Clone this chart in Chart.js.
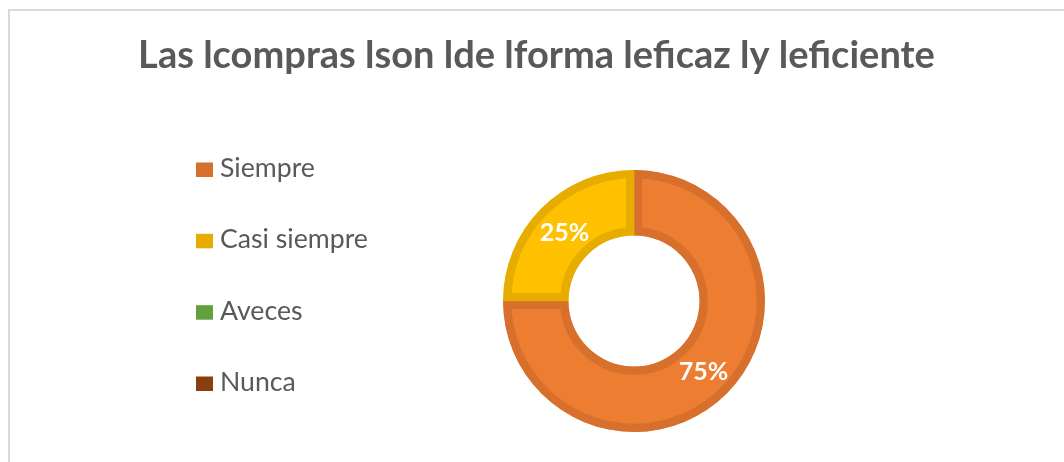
<!DOCTYPE html>
<html>
<head>
<meta charset="utf-8">
<script src="https://cdn.jsdelivr.net/npm/chart.js@4/dist/chart.umd.min.js"></script>
<style>
  html, body { margin: 0; padding: 0; background: #ffffff; }
  #frame { position: absolute; left: 8px; top: 9px; width: 1056px; height: 453px;
           border-top: 2px solid #D9D9D9; border-left: 2px solid #D9D9D9; box-sizing: border-box; }
  #wrap { position: absolute; left: 0; top: 0; width: 1064px; height: 462px; }
</style>
</head>
<body>
<div id="frame"></div>
<div id="wrap"><canvas id="c" width="1064" height="462"></canvas></div>
<script>
const chartTitle = "Las lcompras lson lde lforma leficaz ly leficiente";
const categories = ["Siempre", "Casi siempre", "Aveces", "Nunca"];
const percentValues = [75, 25, 0, 0];
const fillColors = ["#ED7D31", "#FFC000", "#70AD47", "#9E480E"];
const edgeColors = ["#D6702C", "#E6AD00", "#62A03F", "#8A3E0D"];

const FONT = "Lato, 'Open Sans', 'Liberation Sans', sans-serif";

function fitFont(ctx, text, weight, targetWidth) {
  ctx.font = weight + " 100px " + FONT;
  const w = ctx.measureText(text).width;
  return 100 * targetWidth / w;
}

const decorPlugin = {
  id: "decor",
  afterDraw(chart) {
    const ctx = chart.ctx;
    ctx.save();
    // Title
    const ts = fitFont(ctx, chartTitle, "bold", 797);
    ctx.font = "bold " + ts.toFixed(2) + "px " + FONT;
    ctx.fillStyle = "#595959";
    ctx.textAlign = "center";
    ctx.textBaseline = "alphabetic";
    ctx.fillText(chartTitle, 536.5, 68);
    // Legend
    const ls = fitFont(ctx, "Casi siempre", "normal", 148);
    const baselines = [177, 248.3, 319.7, 391];
    categories.forEach((name, i) => {
      const y = baselines[i];
      ctx.fillStyle = edgeColors[i];
      ctx.fillRect(196, y - 14.5, 17, 14.5);
      ctx.font = "normal " + ls.toFixed(2) + "px " + FONT;
      ctx.fillStyle = "#595959";
      ctx.textAlign = "left";
      ctx.fillText(name, 220, y);
    });
    // Data labels
    const meta = chart.getDatasetMeta(0);
    ctx.font = "bold 25px " + FONT;
    ctx.fillStyle = "#FFFFFF";
    ctx.textAlign = "center";
    ctx.textBaseline = "middle";
    meta.data.forEach((arc, i) => {
      const v = percentValues[i];
      if (!v) return;
      const p = arc.getCenterPoint();
      ctx.fillText(v + "%", p.x, p.y + 1);
    });
    ctx.restore();
  }
};

new Chart(document.getElementById("c"), {
  type: "doughnut",
  data: {
    labels: categories,
    datasets: [{
      data: percentValues,
      backgroundColor: fillColors,
      borderColor: edgeColors,
      borderWidth: 8,
      borderAlign: "inner",
      hoverOffset: 0
    }]
  },
  options: {
    responsive: false,
    animation: false,
    cutout: "50%",
    layout: { padding: { left: 503, right: 299, top: 170, bottom: 30 } },
    plugins: {
      legend: { display: false },
      title: { display: false },
      tooltip: { enabled: false }
    }
  },
  plugins: [decorPlugin]
});
</script>
</body>
</html>
